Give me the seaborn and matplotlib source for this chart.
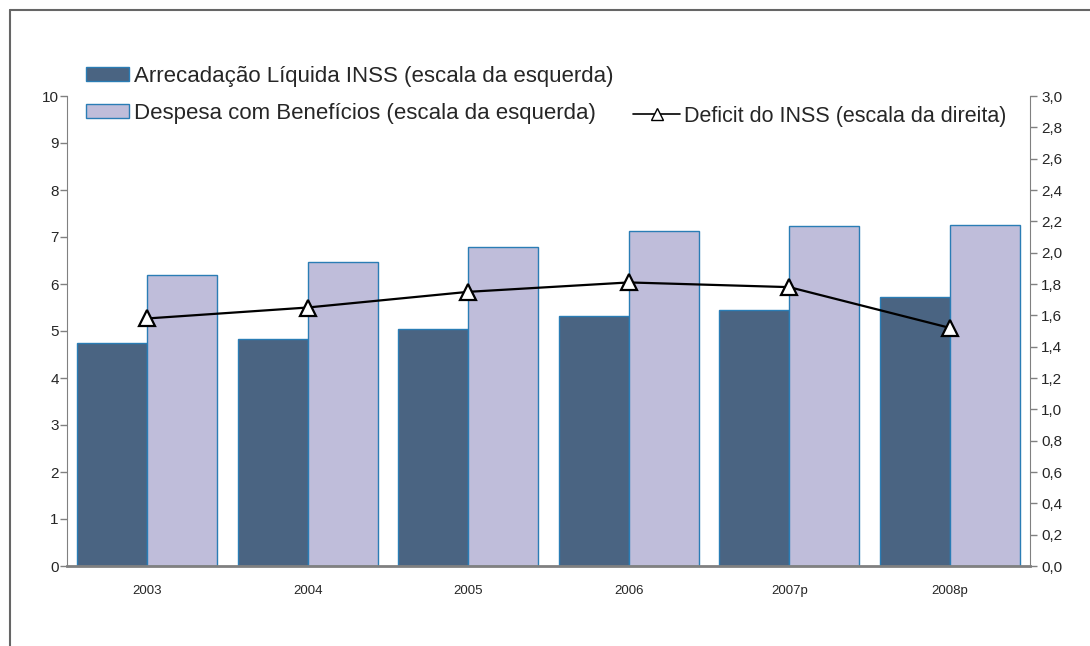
import numpy as np
import pandas as pd
import matplotlib
matplotlib.use("Agg")
import matplotlib.pyplot as plt
import seaborn as sns
from matplotlib.lines import Line2D
from matplotlib.patches import Patch
from matplotlib.ticker import FuncFormatter, MultipleLocator, FixedLocator

# dados
anos = ["2003", "2004", "2005", "2006", "2007p", "2008p"]
arrecadacao = [4.75, 4.83, 5.04, 5.32, 5.45, 5.72]
despesa = [6.19, 6.47, 6.79, 7.13, 7.23, 7.26]
deficit = [1.58, 1.65, 1.75, 1.81, 1.78, 1.52]

nome_arr = "Arrecadação Líquida INSS (escala da esquerda)"
nome_desp = "Despesa com Benefícios (escala da esquerda)"
nome_def = "Deficit do INSS (escala da direita)"

cor_escura = "#4a6482"
cor_clara = "#bfbdda"
cor_borda = "#2a7db5"
cinza = "#808080"

sns.set_style("white")
plt.rcParams["font.family"] = ["Liberation Sans", "DejaVu Sans"]

df = pd.DataFrame({
    "ano": anos * 2,
    "valor": arrecadacao + despesa,
    "serie": [nome_arr] * 6 + [nome_desp] * 6,
})

fig = plt.figure(figsize=(10.9, 6.46), dpi=100)
ax = fig.add_axes([67 / 1090, 1 - 566 / 646, (1030 - 67) / 1090, (566 - 96) / 646])

sns.barplot(data=df, x="ano", y="valor", hue="serie",
            palette=[cor_escura, cor_clara], width=0.87, saturation=1,
            edgecolor=cor_borda, linewidth=1, ax=ax, legend=False)

ax.set_xlim(-0.5, 5.5)
ax.set_ylim(0, 10)
ax.set_xlabel("")
ax.set_ylabel("")
ax.yaxis.set_major_locator(MultipleLocator(1))
ax.xaxis.set_minor_locator(FixedLocator(np.arange(-0.5, 6, 1)))
ax.tick_params(axis="x", which="major", length=0, labelsize=9.5, pad=14)
ax.tick_params(axis="x", which="minor", length=6, width=1.5, color=cinza, direction="out")
ax.tick_params(axis="y", length=5, width=1, color=cinza, direction="out",
               labelsize=11, pad=1, left=True)

for s in ["top", "right"]:
    ax.spines[s].set_visible(False)
ax.spines["left"].set_color(cinza)
ax.spines["bottom"].set_color(cinza)
ax.spines["bottom"].set_linewidth(2)

ax2 = ax.twinx()
sns.lineplot(x=np.arange(len(anos)), y=deficit, ax=ax2, color="black", linewidth=1.6,
             marker="^", markersize=12, markerfacecolor="white",
             markeredgecolor="black", markeredgewidth=1.6)
ax2.set_ylim(0, 3)
ax2.yaxis.set_major_locator(MultipleLocator(0.2))
ax2.yaxis.set_major_formatter(FuncFormatter(lambda v, p: f"{v:.1f}".replace(".", ",")))
ax2.tick_params(axis="y", length=5, width=1, color=cinza, direction="out",
                labelsize=11, pad=3, right=True)
for s in ["top", "left", "bottom"]:
    ax2.spines[s].set_visible(False)
ax2.spines["right"].set_color(cinza)
ax2.set_xlim(-0.5, 5.5)

# legenda
h_bars = [Patch(facecolor=cor_escura, edgecolor=cor_borda, label=nome_arr),
          Patch(facecolor=cor_clara, edgecolor=cor_borda, label=nome_desp)]
fig.legend(handles=h_bars, loc="upper left", bbox_to_anchor=(86 / 1090, 1 - 66 / 646),
           frameon=False, fontsize=16, labelspacing=0.7, handlelength=1.95,
           handleheight=0.6, handletextpad=0.2, borderpad=0, borderaxespad=0)
h_line = [Line2D([0], [0], color="black", lw=1.2, marker="^", markersize=9,
                 markerfacecolor="white", markeredgecolor="black", label=nome_def)]
fig.legend(handles=h_line, loc="upper left", bbox_to_anchor=(633 / 1090, 1 - 106 / 646),
           frameon=False, fontsize=15.5, handlelength=2.2, handletextpad=0.15,
           borderpad=0, borderaxespad=0)

# moldura
fig.add_artist(Line2D([10 / 1090, 1], [1 - 10 / 646, 1 - 10 / 646], color="#666666", lw=1.5))
fig.add_artist(Line2D([10 / 1090, 10 / 1090], [0, 1 - 10 / 646], color="#666666", lw=1.5))

fig.savefig("out.png", dpi=100)
